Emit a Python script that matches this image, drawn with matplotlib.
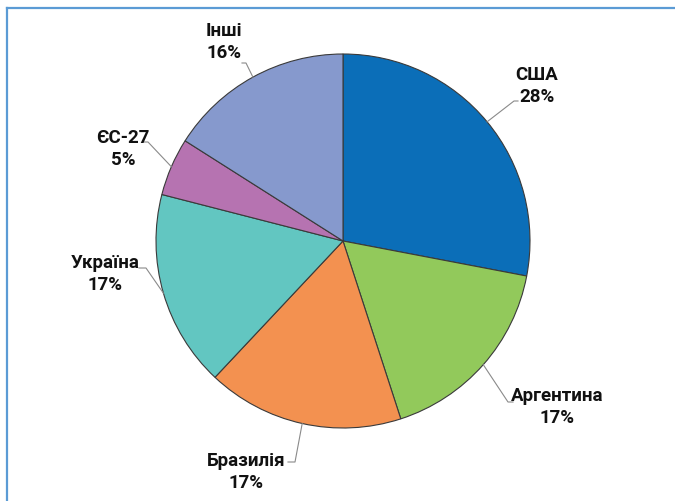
import matplotlib
matplotlib.use("Agg")
import numpy as np
import matplotlib.pyplot as plt

# data
countries = ["США", "Аргентина", "Бразилія", "Україна", "ЄС-27", "Інші"]
shares = [28, 17, 17, 17, 5, 16]
colors = ["#0B6EB8", "#92C95B", "#F39150", "#62C6C1", "#B673B1", "#8699CD"]

W, H = 675, 502
fig = plt.figure(figsize=(W / 100, H / 100), dpi=100)
ax = fig.add_axes([0, 0, 1, 1])

cx, cy, r = 343, 242, 187

# pie drawn in a y-down frame, so counterclock=True gives clockwise on screen
wedges, _ = ax.pie(shares, colors=colors, startangle=-90, counterclock=True,
                   center=(cx, cy), radius=r, frame=True,
                   wedgeprops=dict(edgecolor="#3a3a3a", linewidth=0.8))
ax.set_xlim(0, W)
ax.set_ylim(H, 0)
ax.axis("off")

# label layout (pixel coords): text centre, elbow, stub end
layout = {
    "США": ((537, 86), (514, 102), (518, 102)),
    "Аргентина": ((557, 407), (508, 403), (513, 403)),
    "Бразилія": ((246, 472), (295, 463), (288, 463)),
    "Україна": ((105, 274), (146, 269), (139, 269)),
    "ЄС-27": ((123, 149), (148, 143), (144, 143)),
    "Інші": ((224, 42), (246, 64), (242, 64)),
}

font = ["Roboto", "Liberation Sans", "DejaVu Sans"]

for w, name, val in zip(wedges, countries, shares):
    mid = np.deg2rad((w.theta1 + w.theta2) / 2)
    ex, ey = cx + r * np.cos(mid), cy + r * np.sin(mid)
    (tx, ty), (bx, by), (sx, sy) = layout[name]
    ax.plot([ex, bx, sx], [ey, by, sy], color="#8a8a8a", lw=0.8, zorder=1)
    ax.text(tx, ty, f"{name}\n{val}%", ha="center", va="center",
            fontsize=13.5, fontweight="bold", family=font,
            linespacing=1.3, color="#111111")

# frame lines (top and left)
ax.plot([7, W], [9, 9], color="#5B9BD5", lw=1.6, clip_on=False)
ax.plot([7, 7], [9, H], color="#5B9BD5", lw=1.6, clip_on=False)

fig.savefig("out.png", dpi=100)
